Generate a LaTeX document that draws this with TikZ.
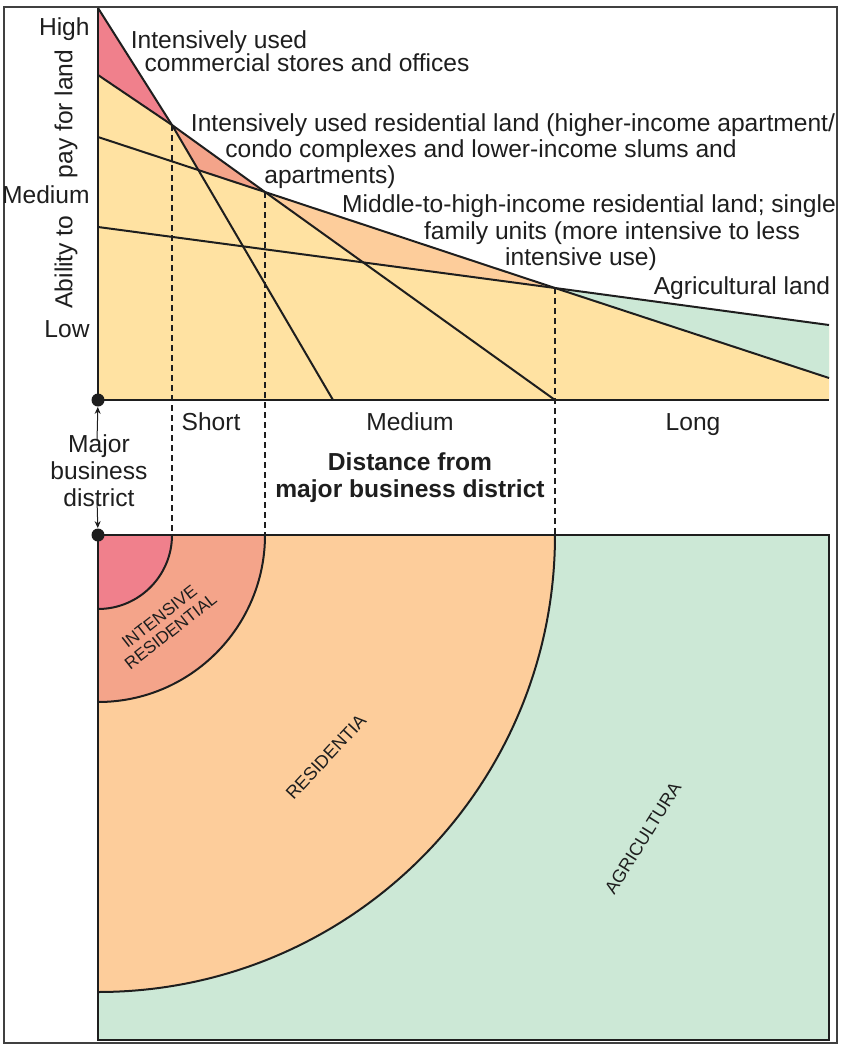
\documentclass[tikz,border=0pt]{standalone}
\usepackage{fontspec}
\setmainfont{Liberation Sans}
\usetikzlibrary{arrows.meta}
\definecolor{creamc}{RGB}{255,226,162}
\definecolor{pinkc}{RGB}{240,128,140}
\definecolor{salmonc}{RGB}{244,164,138}
\definecolor{peachc}{RGB}{253,205,155}
\definecolor{greenc}{RGB}{204,232,214}
\definecolor{inkc}{RGB}{30,30,30}
\begin{document}
\begin{tikzpicture}[x=0.5pt,y=-0.5pt,
  lbl/.style={font=\fontsize{12.3}{13.5}\selectfont, inner sep=0pt, text=inkc},
  boldlbl/.style={lbl, font=\fontsize{12.3}{13.5}\selectfont\bfseries},
  zone/.style={font=\fontsize{9}{9.4}\selectfont, inner sep=0pt, text=inkc, align=center},
  curve/.style={line width=1pt, inkc},
  axisline/.style={line width=1.3pt, inkc},
  guide/.style={line width=0.6pt, inkc, dash pattern=on 3pt off 2pt},
  ring/.style={line width=1pt, inkc},
  dotn/.style={circle, fill=inkc, inner sep=0pt, minimum size=6.5pt},
  arr/.style={line width=0.5pt, inkc, -{Stealth[length=3.5pt,width=3pt]}}]
\useasboundingbox (0,0) rectangle (847,1049);
\draw[line width=0.8pt, black!75] (4,7) rectangle (837,1043);

% ---- key points of the bid-rent chart
\coordinate (O) at (98,400);
\coordinate (C0) at (98,8);
\coordinate (Q1) at (172,125);
\coordinate (C1) at (333,400);
\coordinate (I0) at (98,75);
\coordinate (Q2) at (265,192);
\coordinate (I1) at (555,400);
\coordinate (M0) at (98,137);
\coordinate (Q3) at (555,288);
\coordinate (M1) at (829,378);
\coordinate (A0) at (98,227);
\coordinate (A1) at (829,325);
\coordinate (Xend) at (829,400);
\coordinate (P1) at (intersection of Q1--C1 and M0--Q2);
\coordinate (P2) at (intersection of Q2--I1 and A0--Q3);

% ---- fills
\fill[creamc] (O) -- (C0) -- (Q1) -- (Q2) -- (Q3) -- (A1) -- (Xend) -- cycle;
\fill[pinkc] (C0) -- (Q1) -- (I0) -- cycle;
\fill[salmonc] (Q1) -- (Q2) -- (P1) -- cycle;
\fill[peachc] (Q2) -- (Q3) -- (P2) -- cycle;
\fill[greenc] (Q3) -- (A1) -- (M1) -- cycle;

% ---- bid-rent lines
\draw[curve] (C0) -- (Q1) -- (C1);
\draw[curve] (I0) -- (Q1) -- (Q2) -- (I1);
\draw[curve] (M0) -- (Q2) -- (Q3) -- (M1);
\draw[curve] (A0) -- (Q3) -- (A1);
\draw[axisline] (C0) -- (O) -- (Xend);

% ---- bottom map
\coordinate (B0) at (98,535);
\coordinate (D1) at (172,535);
\coordinate (D2) at (265,535);
\coordinate (D3) at (555,535);
\coordinate (BR) at (829,1040);
\fill[greenc] (B0) rectangle (BR);
\fill[peachc] (B0) -- (D3) arc[start angle=0, end angle=90, radius=457] -- cycle;
\fill[salmonc] (B0) -- (D2) arc[start angle=0, end angle=90, radius=167] -- cycle;
\fill[pinkc] (B0) -- (D1) arc[start angle=0, end angle=90, radius=74] -- cycle;
\draw[ring] (D3) arc[start angle=0, end angle=90, radius=457];
\draw[ring] (D2) arc[start angle=0, end angle=90, radius=167];
\draw[ring] (D1) arc[start angle=0, end angle=90, radius=74];
\draw[line width=0.7pt, inkc] (B0) rectangle (BR);
\draw[line width=1pt, inkc] (B0) -- (829,535);

% ---- dashed guides
\draw[guide] (Q1) -- (D1);
\draw[guide] (Q2) -- (D2);
\draw[guide] (Q3) -- (D3);

% ---- dots and arrows
\node[dotn] (dotA) at (O) {};
\node[dotn] (dotB) at (B0) {};
\node[lbl, align=center] (mbd) at (99,471) {Major\\business\\district};
\coordinate (au) at (97,441);
\coordinate (ad) at (97,499);
\draw[arr] (au) -- (dotA);
\draw[arr] (ad) -- (dotB);

% ---- axis labels
\node[lbl, anchor=base east] (hi) at (90,35) {High};
\node[lbl, anchor=base east] (med) at (90,203) {Medium};
\node[lbl, anchor=base east] (lo) at (90,337) {Low};
\node[lbl, rotate=90] (ylab1) at (66,114) {pay for land};
\node[lbl, rotate=90] (ylab2) at (66,262) {Ability to};
\node[lbl, anchor=base] (short) at (211,430) {Short};
\node[lbl, anchor=base] (medx) at (410,430) {Medium};
\node[lbl, anchor=base] (long) at (693,430) {Long};
\node[boldlbl, anchor=base] (dist1) at (410,470) {Distance from};
\node[boldlbl, anchor=base] (dist2) at (410,497) {major business district};

% ---- curve labels
\node[lbl, anchor=base] (t1a) at (219,48) {Intensively used};
\node[lbl, anchor=base] (t1b) at (307,71) {commercial stores and offices};
\node[lbl, anchor=base] (t2a) at (513,131) {Intensively used residential land (higher-income apartment/};
\node[lbl, anchor=base] (t2b) at (481,157) {condo complexes and lower-income slums and};
\node[lbl, anchor=base] (t2c) at (330,183) {apartments)};
\node[lbl, anchor=base] (t3a) at (589,212) {Middle-to-high-income residential land; single};
\node[lbl, anchor=base] (t3b) at (612,239) {family units (more intensive to less};
\node[lbl, anchor=base] (t3c) at (581,265) {intensive use)};
\node[lbl, anchor=base] (t4) at (742,294) {Agricultural land};

% ---- zone labels
\node[zone, rotate=38, font=\fontsize{8.5}{9.2}\selectfont] (irz) at (165,624) {INTENSIVE\\RESIDENTIAL};
\node[zone, rotate=47] (rz) at (326,757) {RESIDENTIA};
\node[zone, rotate=58] (az) at (643,838) {AGRICULTURA};
\end{tikzpicture}
\end{document}
